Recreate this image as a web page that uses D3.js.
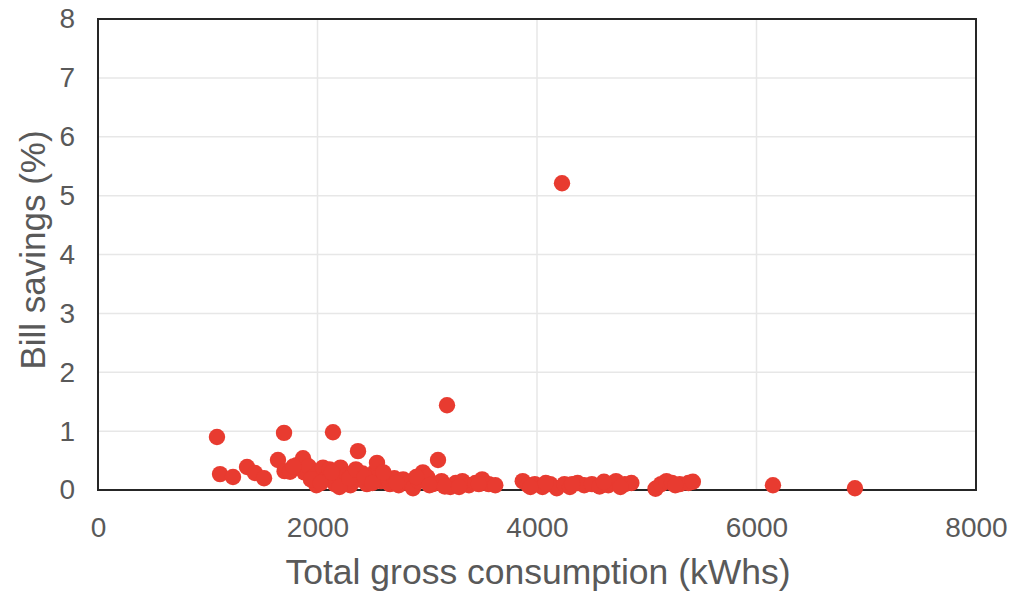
<!DOCTYPE html>
<html>
<head>
<meta charset="utf-8">
<script src="https://cdn.jsdelivr.net/npm/d3@7"></script>
<style>
  body { margin: 0; background: #fff; }
  text { font-family: "Liberation Sans", Arial, sans-serif; fill: #595959; }
</style>
</head>
<body>
<svg width="1011" height="595"></svg>
<script>
// consumption (kWh) and bill savings (%) for each household
consumption = [1084, 1112, 1230, 1358, 1430, 1513, 1640, 1695, 1700, 1750, 1810, 1868, 1880, 1920, 1960, 1990,
  2010, 2050, 2080, 2110, 2141, 2160, 2180, 2210, 2240, 2270, 2300, 2330, 2369, 2380, 2410, 2450,
  2480, 2520, 2542, 2580, 2620, 2660, 2700, 2740, 2780, 2830, 2870, 2920, 2960, 3000, 3050, 3098,
  3130, 3180, 3210, 3260, 3320, 3380, 3440, 3500, 3560, 3620, 3870, 3920, 3980, 4050, 4120, 4180,
  4228, 4250, 4300, 4370, 4430, 4500, 4570, 4650, 4720, 4800, 4860, 5080, 5130, 5180, 5230, 5300,
  5380, 5420, 6150, 6897, 1780, 1940, 2030, 2130, 2200, 2290, 2350, 2430, 2500, 2600, 2720, 2900,
  3020, 3160, 3290, 3470, 3940, 4080, 4320, 4610, 4760, 5260];
savings = [0.90, 0.27, 0.22, 0.39, 0.29, 0.20, 0.51, 0.97, 0.32, 0.31, 0.42, 0.54, 0.30, 0.40, 0.22, 0.08,
  0.30, 0.38, 0.20, 0.35, 0.98, 0.10, 0.28, 0.38, 0.15, 0.25, 0.08, 0.30, 0.66, 0.18, 0.28, 0.10,
  0.22, 0.30, 0.46, 0.15, 0.22, 0.10, 0.20, 0.08, 0.18, 0.12, 0.03, 0.15, 0.30, 0.22, 0.10, 0.51,
  0.15, 1.44, 0.05, 0.12, 0.15, 0.08, 0.12, 0.18, 0.10, 0.08, 0.15, 0.08, 0.10, 0.05, 0.10, 0.03,
  5.21, 0.10, 0.05, 0.12, 0.08, 0.10, 0.06, 0.08, 0.15, 0.10, 0.12, 0.02, 0.10, 0.15, 0.12, 0.10,
  0.12, 0.14, 0.08, 0.03, 0.40, 0.18, 0.12, 0.30, 0.05, 0.20, 0.35, 0.22, 0.12, 0.30, 0.12, 0.22,
  0.08, 0.06, 0.05, 0.10, 0.05, 0.12, 0.10, 0.14, 0.05, 0.08];
xTicks = [0, 2000, 4000, 6000, 8000];
yTicks = [0, 1, 2, 3, 4, 5, 6, 7, 8];

data = consumption.map((c, i) => ({x: c, y: savings[i]}));

const margin = {top: 19, right: 35, bottom: 105, left: 98};
const W = 1011, H = 595;
const svg = d3.select("svg");

const x = d3.scaleLinear().domain([0, 8000]).range([margin.left, W - margin.right]);
const y = d3.scaleLinear().domain([0, 8]).range([H - margin.bottom, margin.top]);

// grid
svg.append("g").selectAll("line").data(yTicks.slice(1, -1)).enter().append("line")
  .attr("x1", x(0)).attr("x2", x(8000))
  .attr("y1", d => y(d)).attr("y2", d => y(d))
  .attr("stroke", "#e7e7e7").attr("stroke-width", 1.5);
svg.append("g").selectAll("line").data(xTicks.slice(1, -1)).enter().append("line")
  .attr("y1", y(0)).attr("y2", y(8))
  .attr("x1", d => x(d)).attr("x2", d => x(d))
  .attr("stroke", "#e7e7e7").attr("stroke-width", 1.5);

// frame
svg.append("rect")
  .attr("x", x(0)).attr("y", y(8))
  .attr("width", x(8000) - x(0)).attr("height", y(0) - y(8))
  .attr("fill", "none").attr("stroke", "#262626").attr("stroke-width", 2);

// axes
const xAxis = svg.append("g").attr("transform", `translate(0,${y(0)})`)
  .call(d3.axisBottom(x).tickValues(xTicks).tickSize(0).tickPadding(27).tickFormat(d3.format("d")));
const yAxis = svg.append("g").attr("transform", `translate(${x(0)},0)`)
  .call(d3.axisLeft(y).tickValues(yTicks).tickSize(0).tickPadding(23).tickFormat(d3.format("d")));
[xAxis, yAxis].forEach(a => {
  a.select(".domain").remove();
  a.selectAll("text").style("font-size", "28px").attr("fill", "#595959");
});

// points
svg.append("g").selectAll("circle").data(data).enter().append("circle")
  .attr("cx", d => x(d.x)).attr("cy", d => y(d.y))
  .attr("r", 8.2).attr("fill", "#e83b30");

// titles
svg.append("text")
  .attr("x", 538).attr("y", 584)
  .attr("text-anchor", "middle").style("font-size", "35.5px")
  .text("Total gross consumption (kWhs)");
svg.append("text")
  .attr("transform", "translate(45,250) rotate(-90)")
  .attr("text-anchor", "middle").style("font-size", "35px")
  .text("Bill savings (%)");
</script>
</body>
</html>
